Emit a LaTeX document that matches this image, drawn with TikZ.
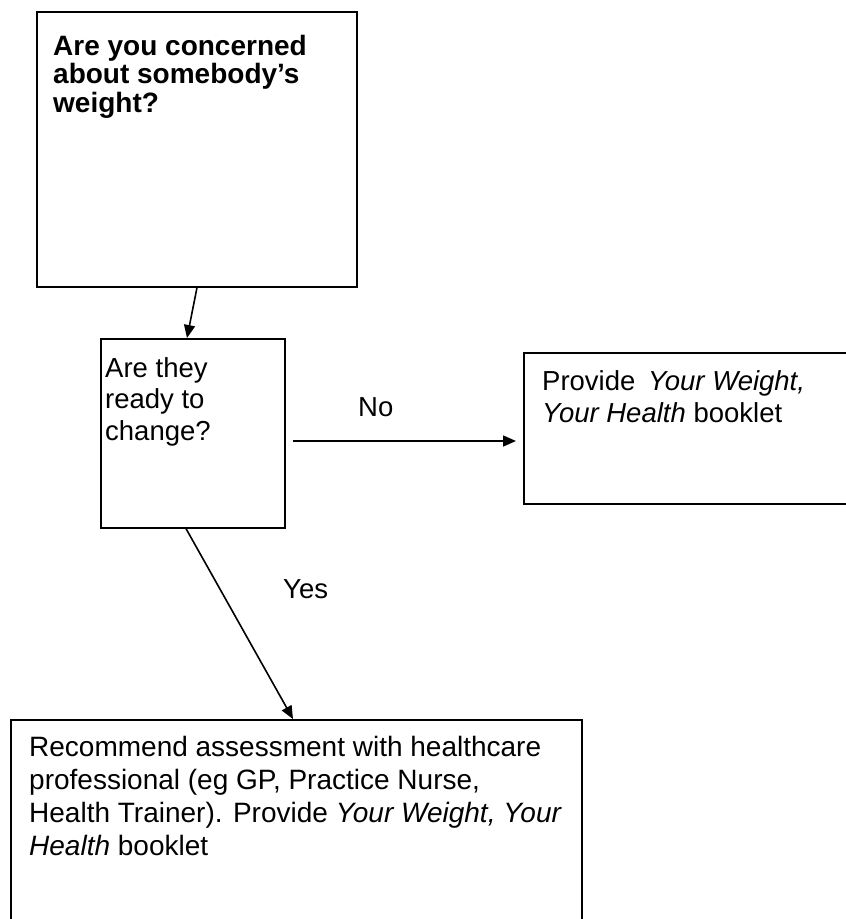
\documentclass[tikz,border=0pt]{standalone}
\usepackage{fontspec}
\setmainfont{Liberation Sans}
\usetikzlibrary{arrows.meta}
\tikzset{
  box/.style={draw, line width=1.6pt, inner sep=0pt, anchor=north west},
  txt/.style={inner sep=0pt, anchor=base west, align=left},
  conn/.style={line width=1.6pt, -{Triangle[length=13pt,width=11pt]}},
  lbl/.style={inner sep=0pt, anchor=base west, font=\fontsize{27.5}{32}\selectfont}
}
\begin{document}
\begin{tikzpicture}[x=1pt,y=-1pt]
\path[use as bounding box, clip] (0,0) rectangle (846,919);
\fill[white] (0,0) rectangle (846,919);
% boxes
\node[box, minimum width=320pt, minimum height=275pt] (b1) at (36,11) {};
\node[box, minimum width=184pt, minimum height=189pt] (b2) at (100,338) {};
\node[box, minimum width=347pt, minimum height=151pt] (b3) at (523,352) {};
\node[box, minimum width=571pt, minimum height=241pt] (b4) at (10,719) {};
% texts (anchored at the baseline of their last line)
\node[txt, font=\fontsize{28}{28.5}\selectfont\bfseries] (t1) at (53,112)
  {Are you concerned\\about somebody’s\\weight?};
\node[txt, font=\fontsize{27.5}{31.5}\selectfont] (t2) at (105,440)
  {Are they\\ready to\\change?};
\node[txt, font=\fontsize{27.5}{32}\selectfont] (t3) at (542,422)
  {Provide\hspace{5pt} \textit{Your Weight,}\\\textit{Your Health} booklet};
\node[txt, font=\fontsize{28}{33}\selectfont] (t4) at (29,855)
  {Recommend assessment with healthcare\\professional (eg GP, Practice Nurse,\\Health Trainer). Provide \textit{Your Weight, Your}\\\textit{Health} booklet};
% labels
\node[lbl] (no) at (358,416) {No};
\node[lbl] (yes) at (283,598) {Yes};
% connectors
\draw[conn] ([xshift=161pt]b1.south west) -- ([xshift=87pt]b2.north west);
\draw[conn] ([xshift=7pt,yshift=-103pt]b2.north east) -- ([xshift=-7pt,yshift=-89pt]b3.north west);
\draw[conn] ([xshift=86pt]b2.south west) -- ([xshift=283pt]b4.north west);
\end{tikzpicture}
\end{document}
